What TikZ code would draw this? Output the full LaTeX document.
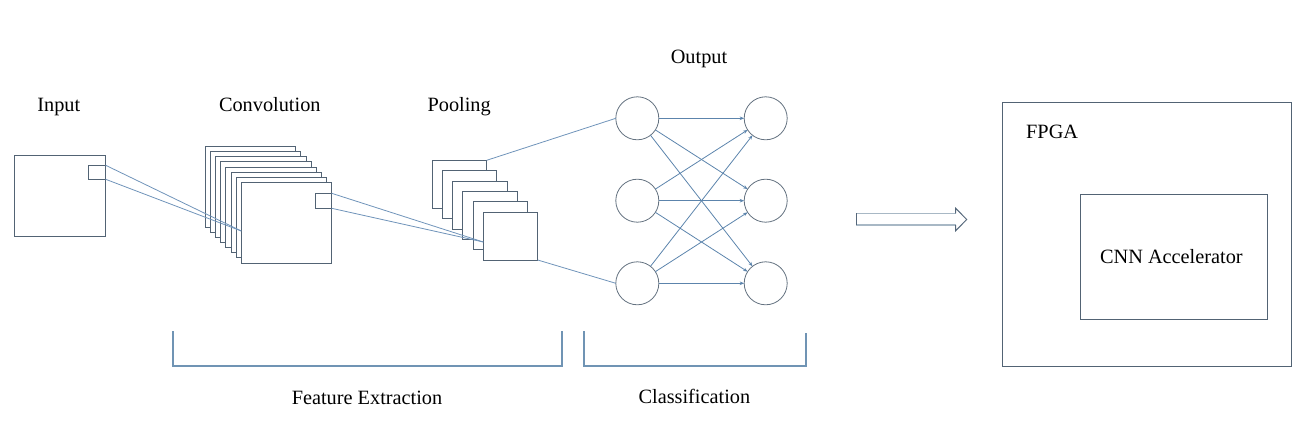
\documentclass[tikz,border=0pt]{standalone}
\usepackage{fontspec}
\setmainfont{Liberation Serif}
\usetikzlibrary{arrows.meta,calc}
\definecolor{boxc}{RGB}{82,99,116}
\definecolor{linec}{RGB}{112,148,186}
\definecolor{brc}{RGB}{112,148,180}
\definecolor{circ}{RGB}{100,114,128}
\definecolor{arrc}{RGB}{92,132,172}
\definecolor{blkl}{RGB}{168,184,197}
\definecolor{blkd}{RGB}{85,103,122}
\begin{document}
\begin{tikzpicture}[x=1pt,y=-1pt,
  frame/.style={rectangle,draw=boxc,fill=white,line width=0.9pt,inner sep=0pt,outer sep=0pt},
  lbl/.style={font=\fontsize{20.3}{24}\selectfont,inner sep=0pt,anchor=base},
  conn/.style={draw=linec,line width=0.8pt},
  neuron/.style={circle,draw=circ,line width=0.8pt,fill=white,minimum size=43pt,inner sep=0pt,outer sep=0pt},
  nnedge/.style={draw=arrc,line width=0.8pt,-{Stealth[length=4.5pt,width=3.5pt]}},
  brk/.style={draw=brc,line width=1.8pt}]
\useasboundingbox (0,0) rectangle (1310,428);

% labels
\node[lbl] (tin) at (58.8,111.5) {Input};
\node[lbl] (tconv) at (269.8,111.5) {Convolution};
\node[lbl] (tpool) at (459.2,111.5) {Pooling};
\node[lbl] (tout) at (699,63.5) {Output};
\node[lbl] (tfe) at (367,404) {Feature Extraction};
\node[lbl] (tcl) at (694.4,403.5) {Classification};

% input
\node[frame,minimum width=91.7pt,minimum height=81.4pt] (in) at (59.85,196) {};
\node[frame,minimum width=17.4pt,minimum height=14pt] (insq) at (97,172.3) {};

% convolution stack
\foreach \i in {0,...,7}{
  \node[frame,minimum width=90.4pt,minimum height=80.6pt] (conv\i) at ({250.5+5.14*\i},{186.7+5.14*\i}) {};
}
\node[frame,minimum width=16.4pt,minimum height=15pt] (convsq) at (323.5,200.8) {};

% pooling stack
\foreach \i in {0,...,5}{
  \node[frame,minimum width=54.4pt,minimum height=48pt] (pool\i) at ({459.5+10.2*\i},{184.3+10.34*\i}) {};
}

% neurons
\node[neuron] (L1) at (637.3,118.3) {};
\node[neuron] (L2) at (637.3,200.7) {};
\node[neuron] (L3) at (637.3,283.3) {};
\node[neuron] (R1) at (765.7,118.3) {};
\node[neuron] (R2) at (765.7,200.7) {};
\node[neuron] (R3) at (765.7,283.3) {};

% connectors
\coordinate (cin) at (241.3,231);
\coordinate (pin) at (483.3,242);
\draw[conn] (insq.north east) -- (cin);
\draw[conn] (insq.south east) -- (cin);
\draw[conn] (convsq.north east) -- (pin);
\draw[conn] (convsq.south east) -- (pin);
\draw[conn] (pool0.north east) -- (L1.west);
\draw[conn] (pool5.south east) -- (L3.west);

\foreach \a in {1,2,3}{
  \foreach \b in {1,2,3}{
    \draw[nnedge] (L\a) -- (R\b);
  }
}

% brackets
\coordinate (b1a) at (172.7,331);
\coordinate (b1b) at (562,331);
\coordinate (b2a) at (584,331);
\coordinate (b2b) at (806,332.5);
\draw[brk] (b1a) -- (b1a |- 0,365.7) -- (b1b |- 0,365.7) -- (b1b);
\draw[brk] (b2a) -- (b2a |- 0,365.7) -- (b2b |- 0,365.7) -- (b2b);

% block arrow
\draw[blkl,line width=1.3pt] (955.7,213.3) -- (856,213.3) (856,225) -- (955.7,225);
\draw[blkd,line width=1pt] (856,213.3) -- (856,225);
\draw[blkd,line width=1pt,line join=miter] (955.7,213.3) -- (955.7,208.3) -- (966.7,219.5) -- (955.7,230.7) -- (955.7,225);

% FPGA
\node[frame,minimum width=289.4pt,minimum height=263.7pt] (fpga) at (1147,234.15) {};
\node[frame,minimum width=187.4pt,minimum height=124.7pt] (acc) at (1174,256.65) {};
\node[lbl,anchor=base west] (tfpga) at (1026,138.3) {FPGA};
\node[lbl] (tacc) at (1171.4,263.3) {CNN Accelerator};
\end{tikzpicture}
\end{document}
